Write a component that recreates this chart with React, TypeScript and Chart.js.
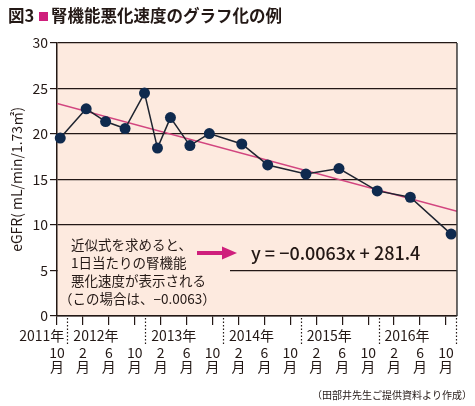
import React, { useEffect, useRef } from "react";
import { Chart, registerables } from "chart.js";

Chart.register(...registerables);

// months elapsed since October 2011
const monthOffsets = [0.5, 4.5, 7.5, 10.5, 13.5, 15.5, 17.5, 20.5, 23.5, 28.5, 32.5, 38.4, 43.5, 49.4, 54.5, 60.8];
const egfrValues = [19.55, 22.77, 21.37, 20.6, 24.5, 18.45, 21.8, 18.73, 20.05, 18.9, 16.6, 15.6, 16.2, 13.75, 13.05, 9.0];
const trendX = [0, 61.7];
const trendY = [23.35, 11.5];
const monthTickLabels = ["10", "2", "6", "10", "2", "6", "10", "2", "6", "10", "2", "6", "10", "2", "6", "10"];
const yearLabels = ["2011年", "2012年", "2013年", "2014年", "2015年", "2016年"];
const yearDividers = [1.6, 13.6, 25.6, 37.6, 49.6, 61.6];
const noteLines = ["近似式を求めると、", "1日当たりの腎機能", "悪化速度が表示される", "（この場合は、−0.0063）"];
const equationText = "y = −0.0063x + 281.4";
const titleHead = "図3";
const titleBody = "腎機能悪化速度のグラフ化の例";
const footnote = "（田部井先生ご提供資料より作成）";
const yAxisTitle = "eGFR( mL/min/1.73㎡)";

const FONT = '"Noto Sans CJK JP", "Noto Sans", sans-serif';
const INK = "#231815";
const PLOT_BG = "#FDEADF";
const MAGENTA = "#CF1F7C";

const decorPlugin = {
  id: "decor",
  beforeDraw(chart: any) {
    const { ctx, chartArea: a } = chart;
    ctx.save();
    ctx.fillStyle = "#ffffff";
    ctx.fillRect(0, 0, chart.width, chart.height);
    ctx.fillStyle = PLOT_BG;
    ctx.fillRect(a.left, a.top, a.right - a.left, a.bottom - a.top);
    ctx.restore();
  },
  beforeDatasetsDraw(chart: any) {
    const { ctx, chartArea: a } = chart;
    ctx.save();
    // annotation box hides part of the grid
    ctx.fillStyle = PLOT_BG;
    ctx.fillRect(a.left + 1, 234, 229 - a.left, a.bottom - 236);
    ctx.fillStyle = INK;
    ctx.font = `13.5px ${FONT}`;
    ctx.textBaseline = "middle";
    ctx.textAlign = "left";
    const ys = [245, 262.5, 281, 299];
    noteLines.forEach((t, i) => {
      ctx.fillText(t, i === 3 ? 59 : 71, ys[i]);
    });
    // arrow
    ctx.strokeStyle = MAGENTA;
    ctx.fillStyle = MAGENTA;
    ctx.lineWidth = 4;
    ctx.beginPath();
    ctx.moveTo(197, 253);
    ctx.lineTo(224, 253);
    ctx.stroke();
    ctx.beginPath();
    ctx.moveTo(222, 246.5);
    ctx.lineTo(237, 253);
    ctx.lineTo(222, 259.5);
    ctx.closePath();
    ctx.fill();
    // equation
    ctx.fillStyle = INK;
    ctx.font = `500 18px ${FONT}`;
    ctx.fillText(equationText, 251, 253);
    ctx.restore();
  },
  afterDraw(chart: any) {
    const { ctx, chartArea: a, scales } = chart;
    const xs = scales.x;
    ctx.save();
    // right border
    ctx.strokeStyle = "#3a3a3a";
    ctx.lineWidth = 1.5;
    ctx.beginPath();
    ctx.moveTo(a.right, a.top);
    ctx.lineTo(a.right, a.bottom);
    ctx.stroke();
    // title
    ctx.textBaseline = "middle";
    ctx.textAlign = "left";
    ctx.fillStyle = INK;
    ctx.font = `bold 16.5px ${FONT}`;
    ctx.fillText(titleHead, 8, 16);
    ctx.fillStyle = MAGENTA;
    ctx.fillRect(39, 12, 9, 9);
    ctx.fillStyle = INK;
    ctx.fillText(titleBody, 51, 16);
    // year row
    ctx.font = `14px ${FONT}`;
    yearLabels.forEach((lab, i) => {
      if (i === 0) {
        ctx.textAlign = "right";
        ctx.fillText(lab, xs.getPixelForValue(yearDividers[0]) - 3, 336);
      } else {
        ctx.textAlign = "left";
        ctx.fillText(lab, xs.getPixelForValue(yearDividers[i - 1]) + 6, 336);
      }
    });
    // dotted dividers
    ctx.strokeStyle = INK;
    ctx.lineWidth = 1.2;
    ctx.setLineDash([1.5, 2]);
    yearDividers.forEach((v) => {
      const px = Math.round(xs.getPixelForValue(v)) + 0.5;
      ctx.beginPath();
      ctx.moveTo(px, 318);
      ctx.lineTo(px, 344);
      ctx.stroke();
    });
    ctx.setLineDash([]);
    // footnote
    ctx.font = `10px ${FONT}`;
    ctx.textAlign = "right";
    ctx.fillText(footnote, 472, 395);
    ctx.restore();
  },
};

export default function App() {
  const ref = useRef<HTMLCanvasElement | null>(null);
  useEffect(() => {
    if (!ref.current) return;
    const chart = new Chart(ref.current, {
      type: "line",
      data: {
        datasets: [
          {
            data: monthOffsets.map((x, i) => ({ x, y: egfrValues[i] })),
            borderColor: "#1e2430",
            borderWidth: 1.5,
            pointRadius: 5.5,
            pointBackgroundColor: "#0f2a4e",
            pointBorderWidth: 0,
            tension: 0,
            clip: false as any,
          },
          {
            data: trendX.map((x, i) => ({ x, y: trendY[i] })),
            borderColor: "#D2457F",
            borderWidth: 1.5,
            pointRadius: 0,
            tension: 0,
          },
        ],
      },
      options: {
        animation: false,
        responsive: false,
        events: [],
        layout: { padding: { left: 0, top: 43, right: 10, bottom: 0 } },
        plugins: { legend: { display: false }, tooltip: { enabled: false } },
        scales: {
          x: {
            type: "linear",
            min: 0,
            max: 61.7,
            afterFit: (s: any) => {
              s.height = 90;
            },
            ticks: {
              stepSize: 4,
              includeBounds: false,
              autoSkip: false,
              maxRotation: 0,
              padding: 21,
              color: INK,
              font: { size: 14, family: FONT, lineHeight: 1.0 },
              callback: (v: any) => [monthTickLabels[Math.round(Number(v) / 4)], "月"],
            },
            grid: { drawOnChartArea: false, tickLength: 9, color: INK, lineWidth: 1.2 },
            border: { color: INK, width: 1.5 },
          },
          y: {
            min: 0,
            max: 30,
            afterFit: (s: any) => {
              s.width = 57;
            },
            ticks: {
              stepSize: 5,
              padding: 2,
              color: INK,
              font: { size: 14, family: FONT },
            },
            grid: { color: INK, tickLength: 7, lineWidth: 1.2 },
            border: { color: INK, width: 1.5 },
            title: {
              display: true,
              text: yAxisTitle,
              color: INK,
              font: { size: 14, family: FONT },
              padding: { top: 8, bottom: 0 },
            },
          },
        },
      },
      plugins: [decorPlugin],
    });
    return () => chart.destroy();
  }, []);
  return (
    <div style={{ position: "fixed", left: 0, top: 0, width: 475, height: 406, background: "#fff" }}>
      <canvas ref={ref} width={475} height={406} style={{ width: 475, height: 406 }} />
    </div>
  );
}
